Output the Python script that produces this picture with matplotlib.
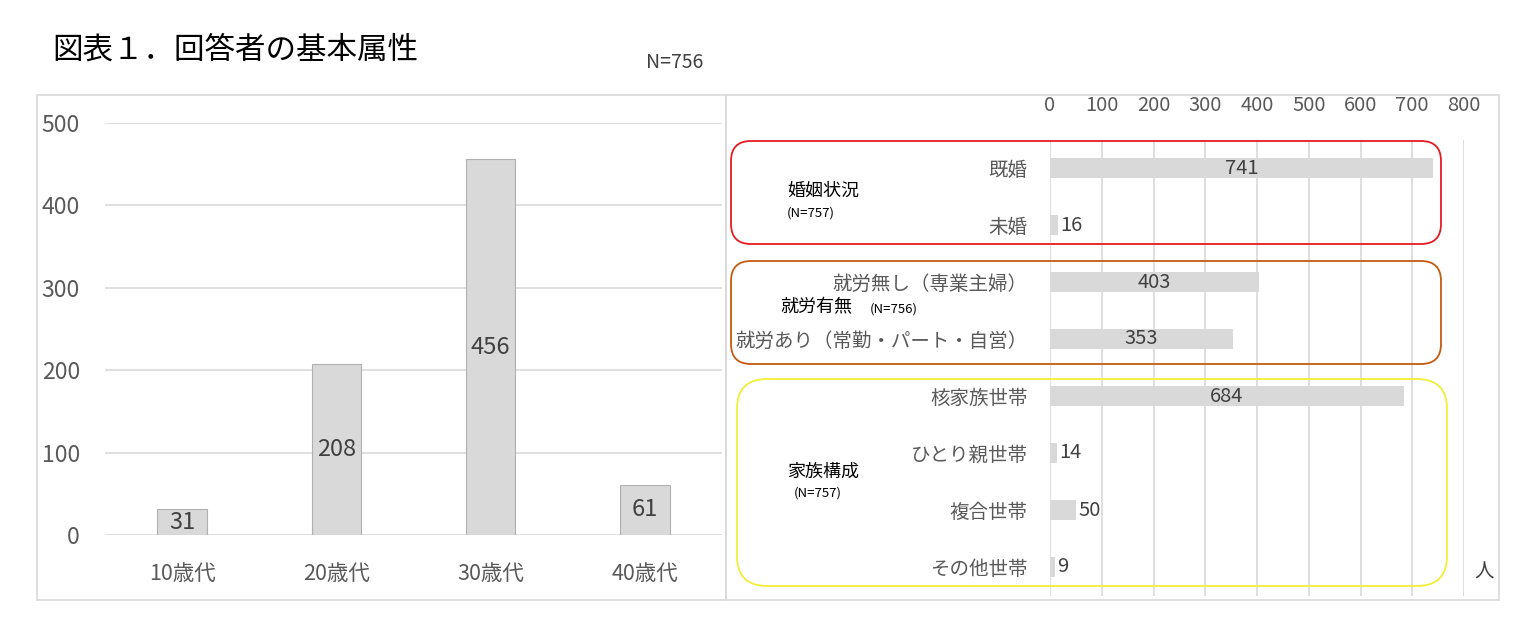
import matplotlib.pyplot as plt
import numpy as np
from matplotlib.patches import Rectangle, FancyBboxPatch

plt.rcParams['font.family'] = ['Noto Sans CJK JP', 'DejaVu Sans']

age_labels = ["10歳代", "20歳代", "30歳代", "40歳代"]
age_counts = [31, 208, 456, 61]

attr_labels = ["既婚", "未婚", "就労無し（専業主婦）", "就労あり（常勤・パート・自営）",
               "核家族世帯", "ひとり親世帯", "複合世帯", "その他世帯"]
attr_counts = [741, 16, 403, 353, 684, 14, 50, 9]
label_inside = [True, False, True, True, True, False, False, False]

group_names = ["婚姻状況", "就労有無", "家族構成"]
group_n = ["(N=757)", "(N=756)", "(N=757)"]

W, H = 1534, 642
fig = plt.figure(figsize=(W / 100, H / 100), dpi=100)

def fx(x):
    return x / W

def fy(y):
    return 1 - y / H

grey_txt = "#595959"
bar_col = "#d9d9d9"
grid_col = "#d9d9d9"

## panel frames
for x0, x1 in [(37, 726), (726, 1499)]:
    fig.patches.append(Rectangle((fx(x0), fy(600)), fx(x1 - x0), (600 - 95) / H,
                                 transform=fig.transFigure, fill=False,
                                 edgecolor="#d9d9d9", linewidth=1.2))

## left: age bars
ax = fig.add_axes([fx(105), fy(535), fx(617), 412 / H])
x = np.arange(len(age_labels))
bars = ax.bar(x, age_counts, width=0.32, color=bar_col, edgecolor="#b0b0b0", linewidth=0.8, zorder=3)
for b, v in zip(bars, age_counts):
    ax.text(b.get_x() + b.get_width() / 2, v / 2, str(v), ha="center", va="center",
            fontsize=17, color="#404040", zorder=4)
ax.set_xlim(-0.5, 3.5)
ax.set_ylim(0, 500)
ax.set_yticks([0, 100, 200, 300, 400, 500])
ax.set_xticks(x)
ax.set_xticklabels(age_labels)
ax.yaxis.grid(True, color=grid_col, linewidth=1.2)
ax.set_axisbelow(True)
for s in ax.spines.values():
    s.set_visible(False)
ax.tick_params(axis="y", length=0, pad=18, labelsize=16.5, labelcolor=grey_txt)
ax.tick_params(axis="x", length=0, pad=20, labelsize=15.5, labelcolor=grey_txt)

## right: attribute bars
ax2 = fig.add_axes([fx(1050), fy(595.5), fx(414), 456 / H])
y = np.arange(len(attr_labels))
ax2.barh(y, attr_counts, height=0.35, color=bar_col, zorder=3)
for yi, v, inside in zip(y, attr_counts, label_inside):
    if inside:
        ax2.text(v / 2, yi, str(v), ha="center", va="center", fontsize=14.5, color="#404040", zorder=4)
    else:
        ax2.text(v + 4, yi, str(v), ha="left", va="center", fontsize=14.5, color="#404040", zorder=4)
ax2.set_xlim(0, 800)
ax2.set_ylim(7.5, -0.5)
ax2.set_xticks(np.arange(0, 801, 100))
ax2.xaxis.tick_top()
ax2.set_yticks(y)
ax2.set_yticklabels(attr_labels)
ax2.xaxis.grid(True, color=grid_col, linewidth=1.2)
ax2.set_axisbelow(True)
for s in ax2.spines.values():
    s.set_visible(False)
ax2.tick_params(axis="x", length=0, pad=17, labelsize=14.5, labelcolor=grey_txt)
ax2.tick_params(axis="y", length=0, pad=16, labelsize=14, labelcolor=grey_txt)

## group boxes
boxes = [(731, 141, 1441, 244, "#e31c23", 0.2),
         (731, 261, 1441, 364, "#c55a11", 0.2),
         (737, 379, 1447, 586, "#f2ee3a", 0.3)]
for x0, y0, x1, y1, c, r in boxes:
    fig.patches.append(FancyBboxPatch((x0 / 100, (H - y1) / 100), (x1 - x0) / 100, (y1 - y0) / 100,
                                      boxstyle=f"round,pad=0,rounding_size={r}",
                                      transform=fig.dpi_scale_trans, fill=False,
                                      edgecolor=c, linewidth=1.3, zorder=5))

fig.text(fx(787), fy(191), group_names[0], fontsize=13, color="black", va="center")
fig.text(fx(787), fy(213), group_n[0], fontsize=9.5, color="black", va="center")
fig.text(fx(780), fy(307), group_names[1], fontsize=13, color="black", va="center")
fig.text(fx(870), fy(309), group_n[1], fontsize=9.5, color="black", va="center")
fig.text(fx(787), fy(472), group_names[2], fontsize=13, color="black", va="center")
fig.text(fx(794), fy(493), group_n[2], fontsize=9.5, color="black", va="center")

fig.text(fx(1474), fy(572), "人", fontsize=14, color="#404040", va="center")

fig.text(fx(52), fy(50), "図表１．回答者の基本属性", fontsize=22, color="black", va="center")
fig.text(fx(646), fy(63), "N=756", fontsize=14, color="#404040", va="center")

fig.savefig("out.png", dpi=100)
